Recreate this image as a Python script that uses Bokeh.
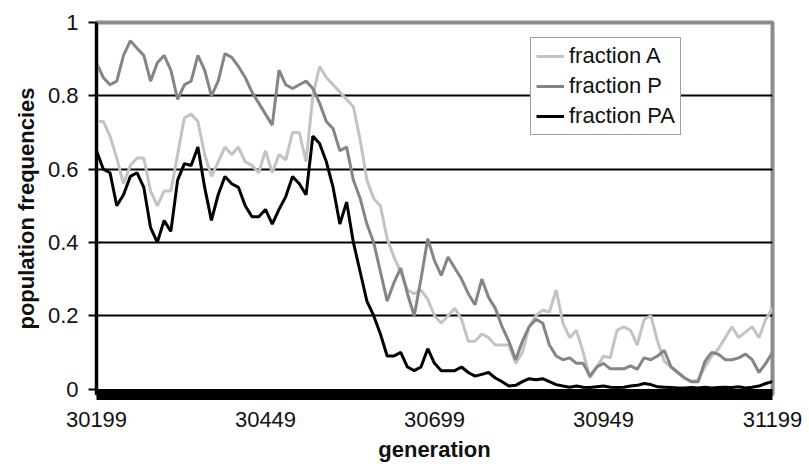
from bokeh.plotting import figure
from bokeh.models import Range1d, FixedTicker
from bokeh.embed import file_html
from bokeh.resources import INLINE

# generations sampled every 10 steps
generation = list(range(30199, 31200, 10))

fraction_A = [
    0.73, 0.73, 0.69, 0.63, 0.56, 0.61, 0.63, 0.63, 0.54, 0.50,
    0.54, 0.54, 0.64, 0.74, 0.75, 0.73, 0.64, 0.58, 0.62, 0.66,
    0.64, 0.66, 0.62, 0.61, 0.59, 0.65, 0.59, 0.64, 0.625, 0.70,
    0.70, 0.62, 0.80, 0.88, 0.85, 0.83, 0.81, 0.79, 0.77, 0.68,
    0.57, 0.52, 0.50, 0.41, 0.36, 0.32, 0.27, 0.26, 0.27, 0.245,
    0.20, 0.18, 0.20, 0.22, 0.19, 0.13, 0.13, 0.15, 0.14, 0.12,
    0.12, 0.12, 0.07, 0.10, 0.17, 0.20, 0.215, 0.21, 0.27, 0.18,
    0.14, 0.16, 0.10, 0.03, 0.06, 0.09, 0.085, 0.16, 0.17, 0.16,
    0.12, 0.19, 0.20, 0.13, 0.075, 0.06, 0.045, 0.03, 0.02, 0.025,
    0.06, 0.09, 0.11, 0.14, 0.17, 0.14, 0.155, 0.17, 0.14, 0.19, 0.22,
]

fraction_P = [
    0.89, 0.85, 0.83, 0.84, 0.91, 0.95, 0.93, 0.91, 0.84, 0.89,
    0.91, 0.87, 0.79, 0.83, 0.84, 0.91, 0.87, 0.80, 0.84, 0.915,
    0.905, 0.88, 0.85, 0.81, 0.78, 0.75, 0.72, 0.87, 0.83, 0.82,
    0.83, 0.84, 0.82, 0.78, 0.73, 0.71, 0.65, 0.66, 0.57, 0.52,
    0.45, 0.40, 0.32, 0.24, 0.29, 0.33, 0.26, 0.20, 0.30, 0.41,
    0.35, 0.31, 0.36, 0.33, 0.30, 0.26, 0.23, 0.30, 0.25, 0.22,
    0.17, 0.13, 0.08, 0.13, 0.17, 0.19, 0.18, 0.12, 0.09, 0.08,
    0.085, 0.07, 0.07, 0.035, 0.06, 0.07, 0.055, 0.055, 0.055, 0.063,
    0.054, 0.085, 0.08, 0.09, 0.105, 0.06, 0.045, 0.03, 0.02, 0.02,
    0.075, 0.10, 0.095, 0.08, 0.08, 0.085, 0.095, 0.08, 0.045, 0.07, 0.10,
]

fraction_PA = [
    0.65, 0.60, 0.59, 0.50, 0.53, 0.58, 0.59, 0.55, 0.44, 0.40,
    0.46, 0.43, 0.57, 0.615, 0.61, 0.66, 0.55, 0.46, 0.53, 0.58,
    0.56, 0.55, 0.50, 0.47, 0.47, 0.49, 0.45, 0.49, 0.525, 0.58,
    0.56, 0.53, 0.69, 0.67, 0.62, 0.55, 0.45, 0.51, 0.40, 0.32,
    0.24, 0.20, 0.15, 0.09, 0.09, 0.10, 0.06, 0.05, 0.06, 0.11,
    0.07, 0.05, 0.05, 0.05, 0.06, 0.045, 0.035, 0.04, 0.045, 0.03,
    0.02, 0.008, 0.01, 0.02, 0.028, 0.025, 0.028, 0.02, 0.012, 0.008,
    0.005, 0.008, 0.005, 0.004, 0.006, 0.008, 0.005, 0.004, 0.005, 0.008,
    0.01, 0.015, 0.012, 0.006, 0.005, 0.004, 0.003, 0.003, 0.004, 0.003,
    0.005, 0.003, 0.004, 0.005, 0.004, 0.006, 0.003, 0.005, 0.008, 0.015, 0.02,
]

x_ticks = [30199, 30449, 30699, 30949, 31199]
x_tick_labels = ["30199", "30449", "30699", "30949", "31199"]
y_ticks = [0, 0.2, 0.4, 0.6, 0.8, 1]
y_tick_labels = ["0", "0.2", "0.4", "0.6", "0.8", "1"]
grid_values = [0.2, 0.4, 0.6, 0.8]

FONT = "Liberation Sans"

p = figure(
    frame_width=676, frame_height=372,
    x_range=Range1d(30199, 31199), y_range=Range1d(-0.015, 1),
    output_backend="svg", toolbar_location=None,
    min_border_left=96, min_border_right=30, min_border_top=22, min_border_bottom=76,
    background_fill_color="white", border_fill_color="white",
)

p.outline_line_color = "#8c8c8c"
p.outline_line_width = 4

p.line(generation, fraction_A, line_color="#c3c3c3", line_width=3, legend_label="fraction A")
p.line(generation, fraction_P, line_color="#858585", line_width=3, legend_label="fraction P")
p.line(generation, fraction_PA, line_color="#000000", line_width=3, legend_label="fraction PA")

# grid
p.xgrid.visible = False
p.ygrid.ticker = FixedTicker(ticks=grid_values)
p.ygrid.grid_line_color = "black"
p.ygrid.grid_line_width = 2

# y axis
ya = p.yaxis[0]
ya.ticker = FixedTicker(ticks=y_ticks)
ya.major_label_overrides = dict(zip(y_ticks, y_tick_labels))
ya.axis_line_color = "black"
ya.axis_line_width = 3
ya.major_tick_out = 8
ya.major_tick_in = 0
ya.major_tick_line_width = 2
ya.minor_tick_line_color = None
ya.major_label_text_font = FONT
ya.major_label_text_font_size = "22px"
ya.major_label_text_color = "#111111"
ya.major_label_standoff = 10
ya.axis_label = "population frequencies"
ya.axis_label_text_font = FONT
ya.axis_label_text_font_style = "bold"
ya.axis_label_text_font_size = "22px"
ya.axis_label_text_color = "#111111"
ya.axis_label_standoff = 6

# x axis
xa = p.xaxis[0]
xa.ticker = FixedTicker(ticks=x_ticks)
xa.major_label_overrides = dict(zip(x_ticks, x_tick_labels))
xa.axis_line_color = "black"
xa.axis_line_width = 11
xa.major_tick_out = 0
xa.major_tick_in = 0
xa.minor_tick_line_color = None
xa.major_label_text_font = FONT
xa.major_label_text_font_size = "22px"
xa.major_label_text_color = "#111111"
xa.major_label_standoff = 17
xa.axis_label = "generation"
xa.axis_label_text_font = FONT
xa.axis_label_text_font_style = "bold"
xa.axis_label_text_font_size = "22px"
xa.axis_label_text_color = "#111111"
xa.axis_label_standoff = 7

# legend
lg = p.legend[0]
lg.location = (434, 259)
lg.label_text_font = FONT
lg.label_text_font_size = "22px"
lg.label_text_color = "#111111"
lg.glyph_width = 28
lg.glyph_height = 26
lg.label_height = 26
lg.label_standoff = 5
lg.spacing = 4
lg.padding = 5
lg.margin = 0
lg.border_line_color = "#404040"
lg.border_line_width = 1
lg.background_fill_color = "white"
lg.background_fill_alpha = 1

open("out.html", "w").write(file_html(p, INLINE))
